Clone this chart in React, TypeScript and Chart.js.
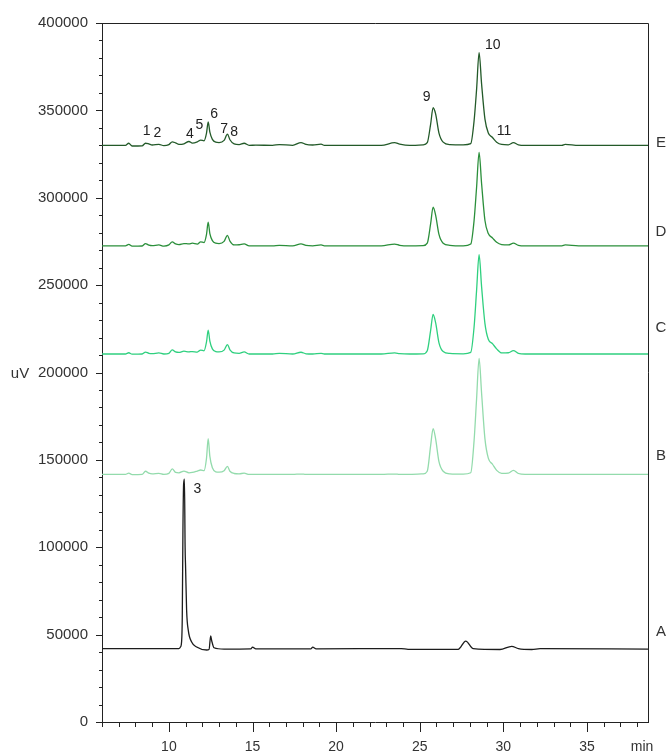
import React, { useEffect, useRef } from 'react';
import { Chart, registerables } from 'chart.js';

Chart.register(...registerables);

// ---------- data ----------
// Retention time grid (min) shared by traces B, C, D, E
const TIME_BE = [
  6.0, 7.4, 7.6, 7.8, 8.4, 8.6, 8.8, 9.0, 9.4, 9.7,
  10.0, 10.2, 10.4, 10.6, 10.9, 11.2, 11.4, 11.7, 11.9, 12.1,
  12.25, 12.35, 12.45, 12.6, 12.8, 13.0, 13.3, 13.5, 13.65, 13.9,
  14.2, 14.5, 14.8, 15.2, 16.2, 16.6, 17.4, 17.9, 18.2, 18.6,
  19.1, 19.3, 22.7, 23.5, 23.8, 24.4, 25.2, 25.45, 25.65, 25.8,
  25.95, 26.15, 26.4, 26.8, 27.6, 28.05, 28.25, 28.4, 28.55, 28.7,
  28.9, 29.1, 29.35, 29.6, 29.9, 30.3, 30.6, 30.9, 31.3, 32.0,
  33.5, 33.7, 34.5, 38.65,
];

const SERIES_E = [
  330000, 330000, 331200, 329600, 329700, 331200, 330800, 330200, 330600, 329800,
  330400, 332000, 331400, 330600, 330900, 332200, 331300, 332000, 333000, 332600,
  337000, 343400, 337500, 333400, 331800, 331600, 332800, 336400, 333200, 330800,
  330400, 331200, 330000, 330100, 330000, 330400, 330000, 331600, 330500, 330200,
  330700, 330000, 330000, 331500, 330700, 330000, 330300, 331500, 342000, 351500,
  348000, 337000, 331800, 330400, 330300, 331000, 344000, 362000, 383000, 365000,
  345000, 337000, 334500, 331800, 330500, 330300, 331500, 330300, 330000, 330000,
  330000, 330600, 330000, 330000,
];

const SERIES_D = [
  272500, 272500, 273300, 272300, 272400, 273800, 272900, 272600, 273000, 272300,
  273000, 274800, 273600, 273200, 273800, 273600, 274000, 273500, 274800, 274300,
  279000, 286000, 279500, 275500, 274000, 273800, 275000, 278500, 275200, 273000,
  273100, 273600, 272500, 272500, 272500, 272800, 272500, 273600, 272700, 272500,
  273000, 272500, 272500, 273500, 272800, 272500, 272600, 274000, 285000, 294600,
  290000, 279000, 274000, 272800, 272500, 273500, 287000, 306000, 326000, 308000,
  287000, 279500, 277000, 274500, 273200, 273000, 274000, 272800, 272500, 272500,
  272500, 273000, 272500, 272500,
];

const SERIES_C = [
  210600, 210600, 211300, 210500, 210600, 211700, 211000, 210800, 211200, 210600,
  211000, 213000, 211800, 211500, 212200, 211800, 212000, 211700, 212800, 212400,
  217500, 224300, 218000, 213500, 212000, 211800, 212800, 216000, 213000, 211200,
  211000, 211800, 210600, 210600, 210600, 210900, 210600, 211600, 210700, 210600,
  211000, 210600, 210600, 211200, 210800, 210600, 210700, 212500, 224000, 233200,
  228500, 217000, 212000, 210900, 210700, 211500, 226000, 247000, 267400, 249000,
  228000, 219000, 216500, 213500, 211200, 211300, 212500, 211000, 210600, 210600,
  210600, 210600, 210600, 210600,
];

const SERIES_B = [
  141700, 141700, 142400, 141600, 141700, 143500, 142400, 142000, 142300, 141700,
  142300, 144800, 142800, 142600, 143600, 142600, 142800, 143600, 144200, 143800,
  151000, 162200, 152000, 145500, 143200, 143000, 143800, 146300, 143500, 142200,
  142000, 142400, 141700, 141700, 141700, 141700, 141700, 141900, 141700, 141700,
  141700, 141700, 141700, 141900, 141700, 141700, 142000, 143500, 158000, 167900,
  162000, 149000, 143500, 142000, 141800, 142600, 161000, 185000, 208100, 188000,
  162000, 151000, 147500, 144000, 142300, 142400, 144000, 142200, 141700, 141700,
  141700, 141700, 141700, 141700,
];

// Trace A has its own time grid
const TIME_A = [
  6.0, 10.6, 10.7, 10.76, 10.8, 10.84, 10.88, 10.93, 10.97, 11.0,
  11.06, 11.16, 11.36, 11.66, 12.26, 12.4, 12.5, 12.56, 12.7, 13.3,
  14.9, 15.0, 15.2, 18.5, 18.6, 18.8, 23.9, 24.3, 27.3, 27.75,
  28.2, 29.8, 30.5, 30.9, 31.7, 32.2, 38.65,
];
const SERIES_A = [
  42000, 42000, 43000, 46000, 60000, 110000, 136000, 139000, 100000, 88000,
  64000, 52400, 45800, 42900, 41200, 41500, 49200, 46500, 42500, 41700,
  41800, 42900, 41800, 41900, 42800, 41900, 42000, 41600, 41600, 46300,
  42000, 41500, 43300, 42000, 41500, 42000, 41700,
];

const TRACE_NAMES = ['A', 'B', 'C', 'D', 'E'];
const TRACE_COLORS = ['#1c1c1c', '#93dbac', '#2fd07f', '#2b8f3b', '#235a29'];
// vertical level (uV) of the trace name written at the right edge
const TRACE_NAME_LEVELS = [51300, 152100, 225600, 280300, 331600];

const PEAK_NUMBERS = ['1', '2', '3', '4', '5', '6', '7', '8', '9', '10', '11'];
const PEAK_NUMBER_TIMES = [8.67, 9.31, 11.7, 11.26, 11.82, 12.7, 13.3, 13.9, 25.42, 29.37, 30.04];
const PEAK_NUMBER_LEVELS = [338300, 336900, 133200, 336400, 341500, 347800, 339200, 337700, 357300, 387600, 338300];

const X_MIN = 6;
const X_MAX = 38.65;
const X_MAJOR_STEP = 5;
const X_MINOR_STEP = 1;
const Y_MIN = 0;
const Y_MAX = 400000;
const Y_MAJOR_STEP = 50000;
const Y_MINOR_STEP = 10000;
const X_UNIT = 'min';
const Y_UNIT = 'uV';

const FONT = '"Liberation Sans", Arial, sans-serif';

const decorPlugin = {
  id: 'decor',
  afterDraw(chart: any) {
    const { ctx, chartArea: ca, scales } = chart;
    const x = scales.x;
    const y = scales.y;
    ctx.save();
    ctx.strokeStyle = '#222';
    ctx.lineWidth = 1;
    ctx.beginPath();
    // top and right frame
    ctx.moveTo(ca.left, Math.round(ca.top) + 0.5);
    ctx.lineTo(Math.round(ca.right) + 0.5, Math.round(ca.top) + 0.5);
    ctx.lineTo(Math.round(ca.right) + 0.5, ca.bottom);
    // x tick marks
    for (let v = Math.ceil(X_MIN); v <= X_MAX; v += X_MINOR_STEP) {
      const px = Math.round(x.getPixelForValue(v)) + 0.5;
      const len = v % X_MAJOR_STEP === 0 ? 10 : 5;
      ctx.moveTo(px, ca.bottom);
      ctx.lineTo(px, ca.bottom + len);
    }
    // y tick marks
    for (let v = Y_MIN; v <= Y_MAX; v += Y_MINOR_STEP) {
      const py = Math.round(y.getPixelForValue(v)) + 0.5;
      const len = v % Y_MAJOR_STEP === 0 ? 6 : 3;
      ctx.moveTo(ca.left, py);
      ctx.lineTo(ca.left - len, py);
    }
    ctx.stroke();

    // peak numbers
    ctx.fillStyle = '#222';
    ctx.font = `14px ${FONT}`;
    ctx.textAlign = 'center';
    ctx.textBaseline = 'middle';
    PEAK_NUMBERS.forEach((t, i) => {
      ctx.fillText(t, x.getPixelForValue(PEAK_NUMBER_TIMES[i]), y.getPixelForValue(PEAK_NUMBER_LEVELS[i]));
    });

    // trace names on the right
    ctx.fillStyle = '#333';
    ctx.font = `15px ${FONT}`;
    TRACE_NAMES.forEach((t, i) => {
      ctx.fillText(t, ca.right + 13, y.getPixelForValue(TRACE_NAME_LEVELS[i]));
    });

    // axis units
    ctx.font = `15px ${FONT}`;
    ctx.fillText(Y_UNIT, 20, y.getPixelForValue((Y_MIN + Y_MAX) / 2) + 1);
    ctx.font = `14px ${FONT}`;
    ctx.fillText(X_UNIT, ca.right - 6, ca.bottom + 25);
    ctx.restore();
  },
};

export default function App() {
  const canvasRef = useRef<HTMLCanvasElement | null>(null);

  useEffect(() => {
    const canvas = canvasRef.current;
    if (!canvas) return;
    const beSeries = [SERIES_B, SERIES_C, SERIES_D, SERIES_E];
    const common = {
      borderWidth: 1.3,
      pointRadius: 0,
      cubicInterpolationMode: 'monotone' as const,
      fill: false,
    };
    const datasets = [
      {
        label: TRACE_NAMES[0],
        data: TIME_A.map((t, i) => ({ x: t, y: SERIES_A[i] })),
        borderColor: TRACE_COLORS[0],
        ...common,
      },
      ...beSeries.map((s, k) => ({
        label: TRACE_NAMES[k + 1],
        data: TIME_BE.map((t, i) => ({ x: t, y: s[i] })),
        borderColor: TRACE_COLORS[k + 1],
        ...common,
      })),
    ];

    const chart = new Chart(canvas, {
      type: 'line',
      data: { datasets },
      options: {
        animation: false,
        responsive: false,
        devicePixelRatio: 1,
        layout: { padding: { top: 20, right: 20, left: 0, bottom: 0 } },
        plugins: { legend: { display: false }, tooltip: { enabled: false } },
        scales: {
          x: {
            type: 'linear',
            min: X_MIN,
            max: X_MAX,
            grid: { display: false, drawTicks: false },
            border: { display: true, color: '#222', width: 1 },
            ticks: {
              stepSize: X_MAJOR_STEP,
              includeBounds: false,
              autoSkip: false,
              maxRotation: 0,
              padding: 17,
              color: '#333',
              font: { family: FONT, size: 14 },
              callback: (v: any) => (Number(v) % X_MAJOR_STEP === 0 ? String(v) : ''),
            },
            afterFit: (s: any) => {
              s.height = 34;
            },
          },
          y: {
            type: 'linear',
            min: Y_MIN,
            max: Y_MAX,
            grid: { display: false, drawTicks: false },
            border: { display: true, color: '#222', width: 1 },
            ticks: {
              stepSize: Y_MAJOR_STEP,
              padding: 14,
              color: '#333',
              font: { family: FONT, size: 15 },
              callback: (v: any) => String(v),
            },
            afterFit: (s: any) => {
              s.width = 102;
            },
          },
        },
      },
      plugins: [decorPlugin],
    });
    return () => chart.destroy();
  }, []);

  return (
    <div style={{ position: 'absolute', left: 0, top: 0, width: 668, height: 756, background: '#fff' }}>
      <canvas ref={canvasRef} width={668} height={756} style={{ display: 'block', width: 668, height: 756 }} />
    </div>
  );
}
